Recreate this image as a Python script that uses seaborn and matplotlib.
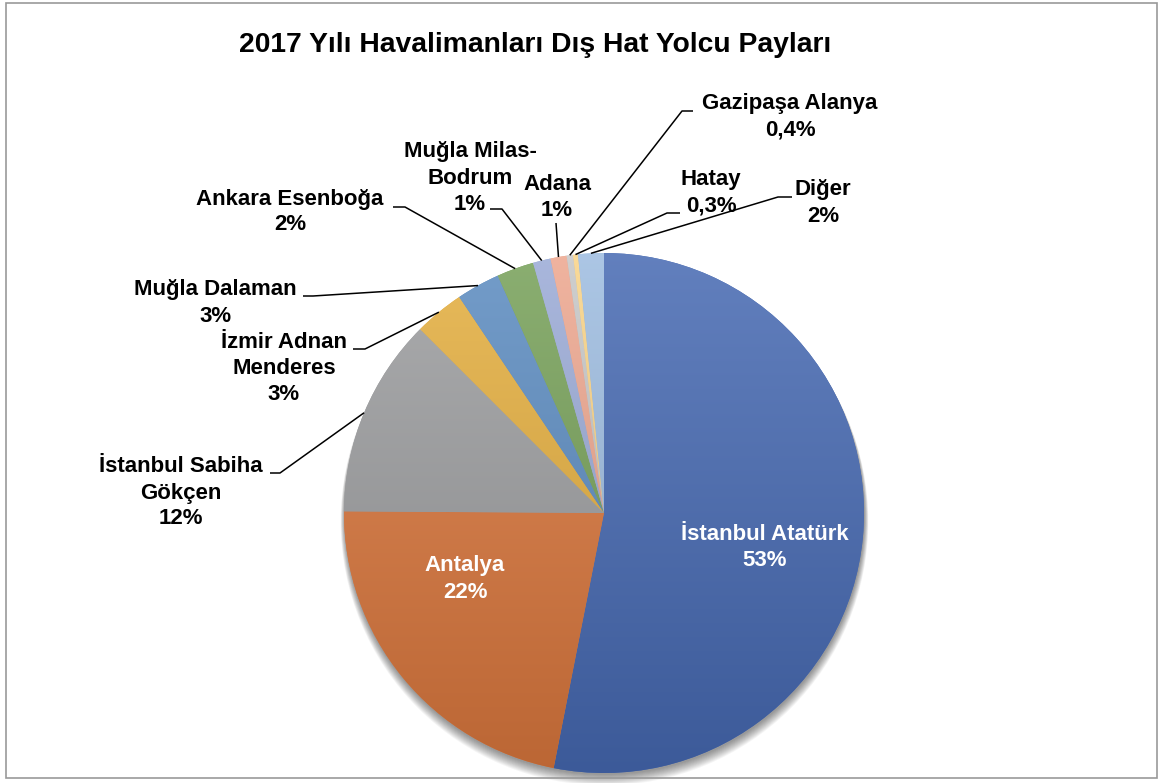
import numpy as np
import matplotlib
matplotlib.use("Agg")
import matplotlib.pyplot as plt
import matplotlib.colors as mcolors
from matplotlib.patches import Circle, Rectangle
import seaborn as sns

# data (share of international passengers, %)
airports = ["İstanbul Atatürk", "Antalya", "İstanbul Sabiha\nGökçen",
            "İzmir Adnan\nMenderes", "Muğla Dalaman", "Ankara Esenboğa",
            "Muğla Milas-\nBodrum", "Adana", "Gazipaşa Alanya", "Hatay", "Diğer"]
shares = [53.1, 22.0, 12.4, 3.1, 2.7, 2.3, 1.1, 1.0, 0.4, 0.3, 1.6]
colors = ["#4669B2", "#DA773D", "#9C9D9F", "#E4AE3E", "#5B8BC0", "#76A058",
          "#9AAAD6", "#EDA68E", "#C6C6C6", "#F9D386", "#9DBCE0"]
title = "2017 Yılı Havalimanları Dış Hat Yolcu Payları"

W, H = 1162, 783
cx, cy, r = 604, H - 513, 260

# layout in pixels (x, y from top): centre of each label block
label_pos = [(765, 548), (465, 579), (181, 493), (284, 368), (215, 303),
             (290, 212), (470, 178), (557, 197), (790, 117), (711, 193), (823, 203)]
leader = [None, None,
          ((280, 473), (270, 473)),
          ((365, 349), (353, 349)),
          ((313, 296), (303, 296)),
          ((405, 207), (393, 207)),
          ((502, 209), (490, 209)),
          ((556, 223), (556, 223)),
          ((682, 111), (693, 111)),
          ((667, 213), (680, 213)),
          ((778, 197), (792, 197))]
line_step = 26


def fmt(v):
    if v < 1:
        return f"{v:.1f}".replace(".", ",") + "%"
    return f"{round(v):.0f}%"


sns.set_theme(style="white")
plt.rcParams["font.family"] = ["Liberation Sans", "DejaVu Sans"]

fig = plt.figure(figsize=(W / 100, H / 100), dpi=100)
ax = fig.add_axes([0, 0, 1, 1])

# soft shadow under the pie, mostly below it
for i in range(12):
    ax.add_patch(Circle((cx + 0.5, cy - 2 - i * 0.6), r + i * 0.35, color="black",
                        alpha=0.04, lw=0, zorder=0))

wedges, _ = ax.pie(shares, colors=colors, startangle=90, counterclock=False,
                   center=(cx, cy), radius=r, wedgeprops=dict(linewidth=0))

grad = np.linspace(1, 0, 256).reshape(-1, 1)
for w, c in zip(wedges, colors):
    base = np.array(mcolors.to_rgb(c))
    top = base + (1 - base) * 0.15
    bot = base * 0.86
    cmap = mcolors.LinearSegmentedColormap.from_list("g", [bot, top])
    im = ax.imshow(grad, cmap=cmap, vmin=0, vmax=1, origin="upper", aspect="auto",
                   extent=(cx - r, cx + r, cy - r, cy + r), zorder=2)
    im.set_clip_path(w)

for i, (w, name, v) in enumerate(zip(wedges, airports, shares)):
    lx, ly = label_pos[i]
    lines = (name + "\n" + fmt(v)).split("\n")
    inside = leader[i] is None
    y0 = ly - (len(lines) - 1) * line_step / 2
    for k, s in enumerate(lines):
        ax.text(lx, H - (y0 + k * line_step), s, ha="center", va="center",
                fontsize=16, fontweight="bold",
                color="white" if inside else "black", zorder=5)
    if not inside:
        mid = np.deg2rad((w.theta1 + w.theta2) / 2)
        ex, ey = cx + r * np.cos(mid), cy + r * np.sin(mid)
        (bx, by), (tx, ty) = leader[i]
        ax.plot([ex, bx, tx], [ey, H - by, H - ty], color="black", lw=1.1,
                solid_capstyle="butt", zorder=4)

ax.set_xlim(0, W)
ax.set_ylim(0, H)
ax.set_aspect("equal")
ax.axis("off")

fig.text(535 / W, 1 - 45 / H, title, ha="center", va="center",
         fontsize=20.3, fontweight="bold", color="black")
fig.patches.append(Rectangle((6 / W, 5 / H), 1151 / W, 775 / H,
                             transform=fig.transFigure, fill=False,
                             edgecolor="#999999", lw=1.2))

fig.savefig("out.png", dpi=100)
